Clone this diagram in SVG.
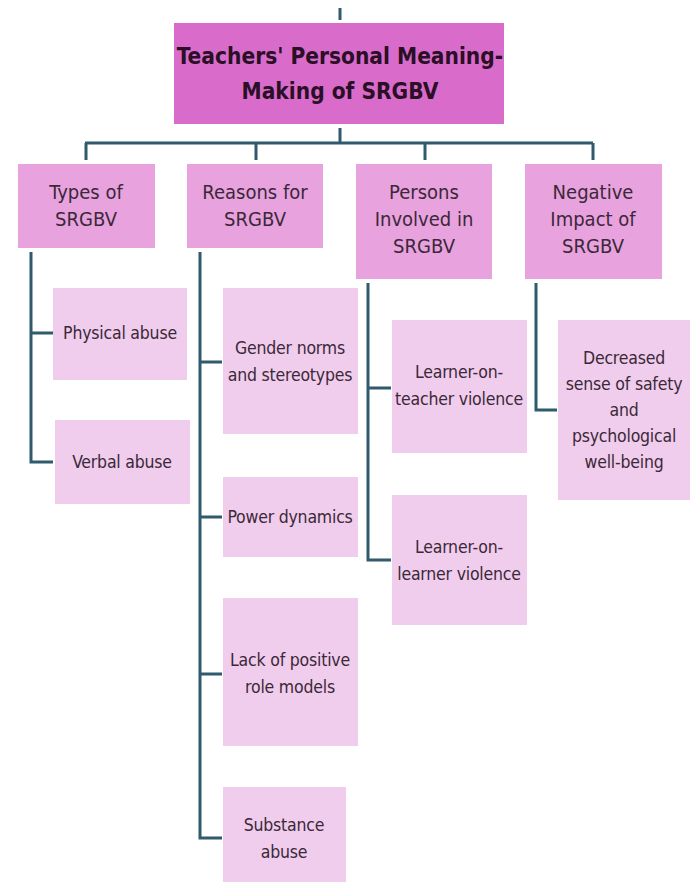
<svg xmlns="http://www.w3.org/2000/svg" width="690" height="885" viewBox="0 0 690 885">
<style>
.main{fill:#d96ccb}
.l1{fill:#e8a2de}
.l2{fill:#f0cdec}
text{font-family:"DejaVu Sans Condensed","Liberation Sans Narrow","Liberation Sans",sans-serif;font-stretch:condensed;text-anchor:middle;fill:#3b2838}
.t0{font-size:22.5px;font-weight:bold;fill:#2a0f26}
.t1{font-size:20px}
.t2{font-size:17.5px;letter-spacing:-0.2px}
.c{fill:none;stroke:#2f5b6c;stroke-width:3}
</style>
<rect width="690" height="885" fill="#ffffff"/>
<g id="connectors">
<path class="c" d="M340 8V20"/>
<path class="c" d="M340 128V143M85 143H593M86 143V160M256 143V160M425 143V160M593 143V160"/>
<path class="c" d="M31 252V462H53M31 333H53"/>
<path class="c" d="M200 252V838H222M200 362H222M200 517H222M200 674H222"/>
<path class="c" d="M368 283V560H391M368 388H391"/>
<path class="c" d="M536 283V410H557"/>
</g>
<g id="root"><rect class="main" x="174" y="23" width="330" height="101"/><text class="t0" x="340" y="64">Teachers' Personal Meaning-</text><text class="t0" x="340" y="99">Making of SRGBV</text></g>
<g id="types"><rect class="l1" x="18" y="164" width="137" height="84"/><text class="t1" x="86" y="199">Types of</text><text class="t1" x="86" y="226">SRGBV</text></g>
<g id="reasons"><rect class="l1" x="187" y="164" width="136" height="84"/><text class="t1" x="255" y="199">Reasons for</text><text class="t1" x="255" y="226">SRGBV</text></g>
<g id="persons"><rect class="l1" x="356" y="164" width="136" height="115"/><text class="t1" x="424" y="199">Persons</text><text class="t1" x="424" y="226">Involved in</text><text class="t1" x="424" y="253">SRGBV</text></g>
<g id="negative"><rect class="l1" x="525" y="164" width="137" height="115"/><text class="t1" x="593" y="199">Negative</text><text class="t1" x="593" y="226">Impact of</text><text class="t1" x="593" y="253">SRGBV</text></g>
<g id="physical"><rect class="l2" x="53" y="288" width="134" height="92"/><text class="t2" x="120" y="339">Physical abuse</text></g>
<g id="verbal"><rect class="l2" x="55" y="420" width="135" height="84"/><text class="t2" x="122" y="468">Verbal abuse</text></g>
<g id="gender"><rect class="l2" x="223" y="288" width="135" height="146"/><text class="t2" x="290" y="354">Gender norms</text><text class="t2" x="290" y="381">and stereotypes</text></g>
<g id="power"><rect class="l2" x="223" y="477" width="135" height="80"/><text class="t2" x="290" y="523">Power dynamics</text></g>
<g id="lack"><rect class="l2" x="223" y="598" width="135" height="148"/><text class="t2" x="290" y="666">Lack of positive</text><text class="t2" x="290" y="693">role models</text></g>
<g id="substance"><rect class="l2" x="223" y="787" width="123" height="95"/><text class="t2" x="284" y="831">Substance</text><text class="t2" x="284" y="858">abuse</text></g>
<g id="lot"><rect class="l2" x="392" y="320" width="135" height="133"/><text class="t2" x="459" y="378">Learner-on-</text><text class="t2" x="459" y="405">teacher violence</text></g>
<g id="lol"><rect class="l2" x="392" y="495" width="135" height="130"/><text class="t2" x="459" y="553">Learner-on-</text><text class="t2" x="459" y="580">learner violence</text></g>
<g id="decreased"><rect class="l2" x="558" y="320" width="132" height="180"/><text class="t2" x="624" y="364">Decreased</text><text class="t2" x="624" y="390">sense of safety</text><text class="t2" x="624" y="416">and</text><text class="t2" x="624" y="442">psychological</text><text class="t2" x="624" y="468">well-being</text></g>
</svg>
